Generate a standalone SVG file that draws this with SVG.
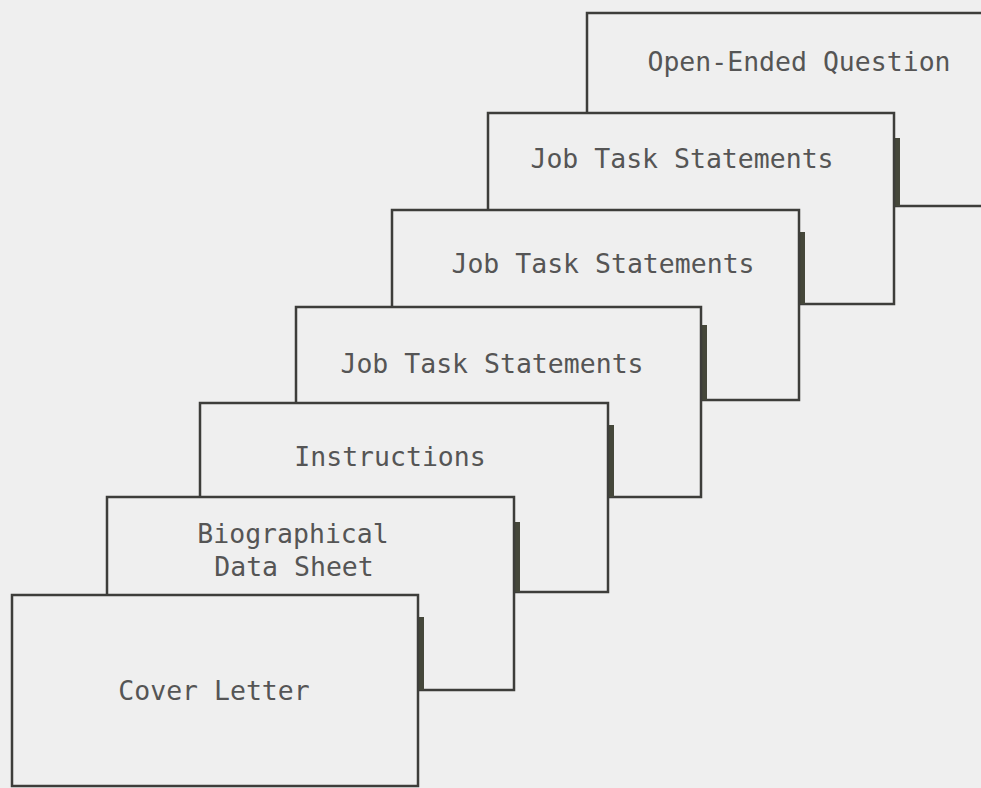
<svg xmlns="http://www.w3.org/2000/svg" width="981" height="788" viewBox="0 0 981 788">
<style>
.card{fill:#efefef;stroke:#3d3d3a;stroke-width:2.5}
.edge{fill:#45473a}
.lbl{font-family:"DejaVu Sans Mono","Liberation Mono",monospace;font-size:26.5px;fill:#555;text-anchor:middle}
</style>
<rect width="981" height="788" fill="#efefef"/>
<g id="open-ended">
<rect class="card" x="587" y="13" width="420" height="193"/>
<text class="lbl" x="799" y="71">Open-Ended Question</text>
</g>
<g id="jts1">
<rect class="edge" x="894" y="138" width="6" height="68"/>
<rect class="card" x="488" y="113" width="406" height="191"/>
<text class="lbl" x="682" y="168">Job Task Statements</text>
</g>
<g id="jts2">
<rect class="edge" x="799" y="232" width="6" height="72"/>
<rect class="card" x="392" y="210" width="407" height="190"/>
<text class="lbl" x="603" y="273">Job Task Statements</text>
</g>
<g id="jts3">
<rect class="edge" x="701" y="325" width="6" height="75"/>
<rect class="card" x="296" y="307" width="405" height="190"/>
<text class="lbl" x="492" y="373">Job Task Statements</text>
</g>
<g id="instructions">
<rect class="edge" x="608" y="425" width="6" height="72"/>
<rect class="card" x="200" y="403" width="408" height="189"/>
<text class="lbl" x="390" y="466">Instructions</text>
</g>
<g id="biographical">
<rect class="edge" x="514" y="522" width="6" height="70"/>
<rect class="card" x="107" y="497" width="407" height="193"/>
<text class="lbl" x="293" y="543">Biographical</text>
<text class="lbl" x="294" y="576">Data Sheet</text>
</g>
<g id="cover-letter">
<rect class="edge" x="418" y="617" width="6" height="73"/>
<rect class="card" x="12" y="595" width="406" height="191"/>
<text class="lbl" x="214" y="700">Cover Letter</text>
</g>
</svg>
